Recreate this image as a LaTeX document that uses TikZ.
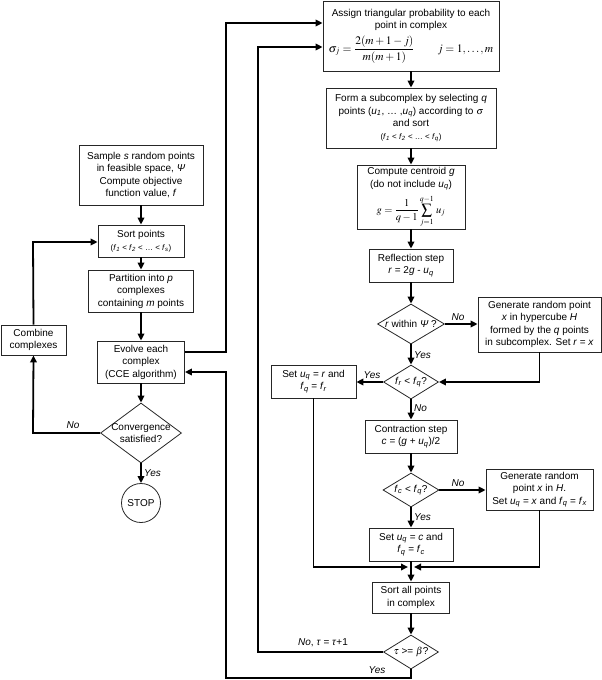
\documentclass[tikz,border=0pt]{standalone}
\usepackage{mathptmx}
\usepackage[no-math]{fontspec}
\setmainfont{Liberation Sans}
\usetikzlibrary{arrows.meta,shapes.geometric}
\newcommand\sbs[1]{\textsubscript{\itshape #1}}
\newcommand\vi[1]{\textit{#1}}
\begin{document}
\begin{tikzpicture}[x=1pt,y=-1pt,
  box/.style={draw=black!85, line width=0.8pt, align=center, inner sep=1pt, font=\fontsize{10}{12.5}\selectfont},
  dia/.style={draw=black!85, line width=0.8pt, diamond, inner sep=0pt},
  dtext/.style={align=center, inner sep=0pt, font=\fontsize{10}{12.5}\selectfont},
  lbl/.style={font=\fontsize{10}{12}\selectfont\itshape, inner sep=1pt},
  conn/.style={line width=1.8pt, -{Triangle[length=7pt,width=6.5pt]}},
]
\useasboundingbox (0,0) rectangle (602,680);

% left column
\node[box, minimum width=124pt, minimum height=60pt] (sample) at (141,175)
  {Sample \vi{s} random points\\in feasible space, \vi{Ψ}\\Compute objective\\function value, \vi{f}};
\node[box, minimum width=86pt, minimum height=32pt] (sortp) at (141,241)
  {Sort points\\{\footnotesize(\vi{f}\sbs{1} < \vi{f}\sbs{2} < … < \vi{f}\sbs{s})}};
\node[box, minimum width=105pt, minimum height=42pt] (part) at (141,291)
  {Partition into \vi{p}\\complexes\\containing \vi{m} points};
\node[box, minimum width=87pt, minimum height=42pt] (evolve) at (141,362)
  {Evolve each\\complex\\(CCE algorithm)};
\node[box, minimum width=65pt, minimum height=30pt] (combine) at (33.5,340)
  {Combine\\complexes};
\node[dia, minimum width=81pt, minimum height=60pt] (conv) at (141,433) {};
\node[dtext] (convt) at (conv) {Convergence\\satisfied?};
\node[draw=black!85, line width=0.8pt, circle, minimum size=39pt, inner sep=0pt,
  font=\fontsize{10}{12}\selectfont] (stop) at (141,503) {STOP};

% right column
\node[box, minimum width=176pt, minimum height=70pt] (assign) at (411,36)
  {Assign triangular probability to each\\point in complex\\[4pt]
   {\fontsize{11.5}{14}\selectfont$\displaystyle \sigma_j=\frac{2(m+1-j)}{m(m+1)}\qquad j=1,\ldots,m$}};
\node[box, minimum width=170pt, minimum height=60pt] (form) at (411,118)
  {Form a subcomplex by selecting \vi{q}\\points (\vi{u}\sbs{1}, … ,\vi{u}\sbs{q}) according to $\sigma$\\and sort\\
   {\footnotesize(\vi{f}\sbs{1} < \vi{f}\sbs{2} < … < \vi{f}\sbs{q})}};
\node[box, minimum width=108pt, minimum height=64pt] (cent) at (411,197)
  {Compute centroid \vi{g}\\(do not include \vi{u}\sbs{q})\\[4pt]
   {\fontsize{10.5}{12}\selectfont$\displaystyle g=\frac{1}{q-1}\sum_{j=1}^{q-1}\,u_j$}};
\node[box, minimum width=84pt, minimum height=33pt] (refl) at (411,265.5)
  {Reflection step\\\vi{r} = 2\vi{g} - \vi{u}\sbs{q}};
\node[dia, minimum width=67pt, minimum height=40pt] (rin) at (411,324) {};
\node[dtext] (rint) at (rin) {\vi{r} within \vi{Ψ} ?};
\node[box, minimum width=123pt, minimum height=55pt] (gen1) at (539.5,324.5)
  {Generate random point\\\vi{x} in hypercube \vi{H}\\formed by the \vi{q} points\\in subcomplex. Set \vi{r} = \vi{x}};
\node[dia, minimum width=55pt, minimum height=34pt] (frfq) at (411,382) {};
\node[dtext] (frfqt) at (frfq) {\vi{f}\sbs{r} < \vi{f}\sbs{q}?};
\node[box, minimum width=85pt, minimum height=33pt] (setr) at (313.5,381.5)
  {Set \vi{u}\sbs{q} = \vi{r} and\\\vi{f}\sbs{q} = \vi{f}\sbs{r}};
\node[box, minimum width=92pt, minimum height=33pt] (contr) at (411,436.5)
  {Contraction step\\\vi{c} = (\vi{g} + \vi{u}\sbs{q})/2};
\node[dia, minimum width=56pt, minimum height=34pt] (fcfq) at (411,490) {};
\node[dtext] (fcfqt) at (fcfq) {\vi{f}\sbs{c} < \vi{f}\sbs{q}?};
\node[box, minimum width=107pt, minimum height=41pt] (gen2) at (539.5,489.5)
  {Generate random\\point \vi{x} in \vi{H}.\\Set \vi{u}\sbs{q} = \vi{x} and \vi{f}\sbs{q} = \vi{f}\sbs{x}};
\node[box, minimum width=84pt, minimum height=33pt] (setc) at (411,544.5)
  {Set \vi{u}\sbs{q} = \vi{c} and\\\vi{f}\sbs{q} = \vi{f}\sbs{c}};
\node[box, minimum width=77pt, minimum height=31pt] (sortall) at (411,597.5)
  {Sort all points\\in complex};
\node[dia, minimum width=55pt, minimum height=34pt] (tau) at (411,652) {};
\node[dtext] (taut) at (tau) {$\tau$ >= $\beta$?};

% coordinates
\coordinate (a1) at (226,352);
\coordinate (a2) at (226,23);
\coordinate (b1) at (258,652);
\coordinate (b2) at (258,47);
\coordinate (y1) at (411,678);
\coordinate (y2) at (226,678);
\coordinate (y3) at (226,372);
\coordinate (cl1) at (33,433);
\coordinate (cl2) at (33,242);
\coordinate (jl) at (408,567);
\coordinate (jr) at (414,567);

% left connectors
\draw[conn] (sample) -- (sortp);
\draw[conn] (sortp) -- (part);
\draw[conn] (part) -- (evolve);
\draw[conn] (evolve) -- (conv);
\draw[conn] (conv) -- (stop);
\draw[conn] (conv.west) -- (cl1) -- (combine.south);
\draw[conn] (combine.north) -- (cl2) -- (sortp.west |- cl2);
\draw[conn] ([yshift=10pt]evolve.east) -- (a1) -- (a2) -- (assign.west |- a2);
\draw[conn] (tau.south) -- (y1) -- (y2) -- (y3) -- ([yshift=-10pt]evolve.east);
\draw[conn] (tau.west) -- (b1) -- (b2) -- (assign.west |- b2);

% right connectors
\draw[conn] (assign) -- (form);
\draw[conn] (form) -- (cent);
\draw[conn] (cent) -- (refl);
\draw[conn] (refl) -- (rin);
\draw[conn] (rin.east) -- (gen1.west |- rin.east);
\draw[conn] (rin) -- (frfq);
\draw[conn] (gen1.south) |- (frfq.east);
\draw[conn] (frfq.west) -- (setr.east |- frfq.west);
\draw[conn] (frfq) -- (contr);
\draw[conn] (contr) -- (fcfq);
\draw[conn] (fcfq.east) -- (gen2.west |- fcfq.east);
\draw[conn] (fcfq) -- (setc);
\draw[conn] (setr.south) |- (jl);
\draw[conn] (gen2.south) |- (jr);
\draw[conn] (setc) -- (sortall);
\draw[conn] (sortall) -- (tau);

% labels
\node[lbl] (l1) at (73,425) {No};
\node[lbl, anchor=west] (l2) at (143,473) {Yes};
\node[lbl] (l3) at (458,317) {No};
\node[lbl, anchor=west] (l4) at (413,355) {Yes};
\node[lbl] (l5) at (372,375) {Yes};
\node[lbl, anchor=west] (l6) at (413,408) {No};
\node[lbl] (l7) at (458,483) {No};
\node[lbl, anchor=west] (l8) at (413,517) {Yes};
\node[font=\fontsize{10}{12}\selectfont, inner sep=1pt] (l9) at (323,643) {\textit{No}, \textit{τ} = \textit{τ}+1};
\node[lbl] (l10) at (377,670) {Yes};
\end{tikzpicture}
\end{document}
